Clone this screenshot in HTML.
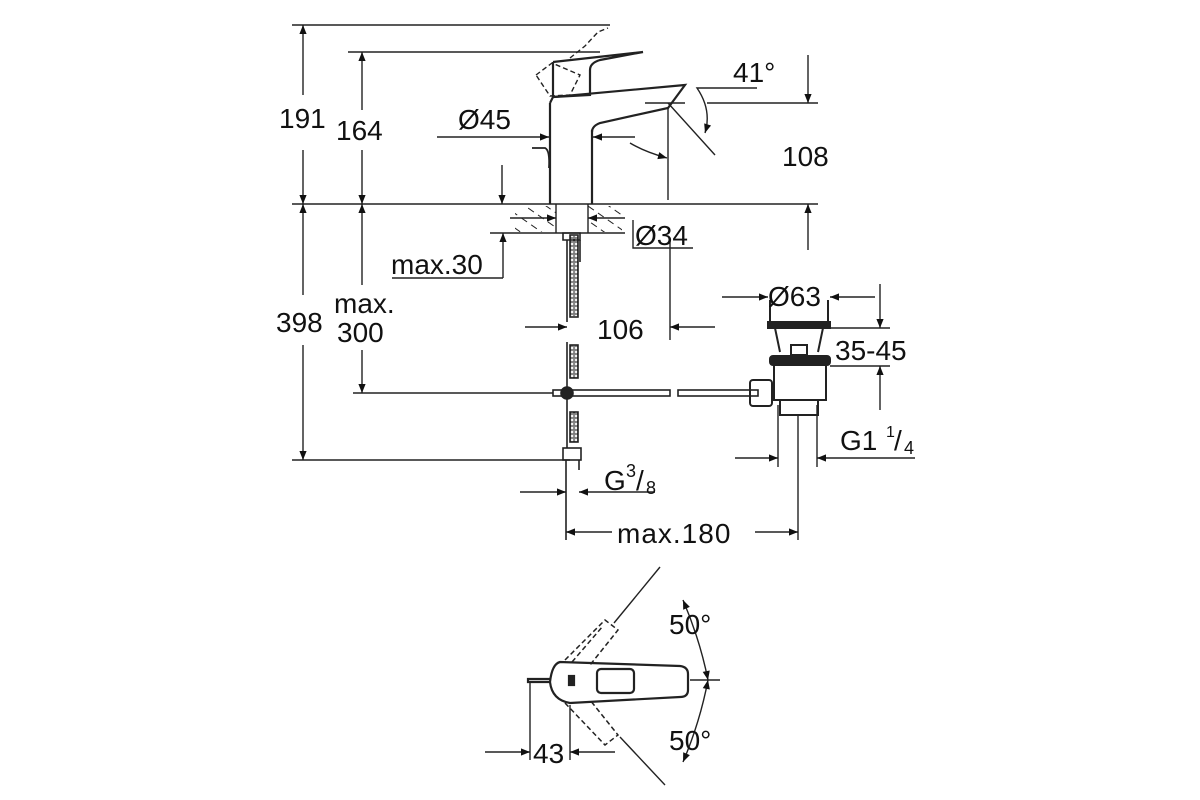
<!DOCTYPE html>
<html><head><meta charset="utf-8"><style>
html,body{margin:0;padding:0;background:#fff;}
svg{display:block;}
text{font-family:"Liberation Sans",sans-serif;fill:#111;}
</style></head><body>
<svg width="1200" height="800" viewBox="0 0 1200 800" xmlns="http://www.w3.org/2000/svg">
<defs>
<marker id="a" viewBox="0 0 10 10" refX="10" refY="5" markerWidth="16" markerHeight="9" markerUnits="userSpaceOnUse" orient="auto-start-reverse"><path d="M0,1 L10,5 L0,9 z" fill="#111"/></marker>
<pattern id="h" width="12" height="12" patternUnits="userSpaceOnUse" patternTransform="rotate(-55)"><line x1="0" y1="0" x2="0" y2="7" stroke="#222" stroke-width="2"/></pattern>
<pattern id="mesh" width="4" height="4" patternUnits="userSpaceOnUse"><circle cx="2" cy="2" r="1.2" fill="none" stroke="#222" stroke-width="0.9"/></pattern>
</defs>
<g stroke="#222" stroke-width="1.4" fill="none">
<line x1="292" y1="25" x2="610" y2="25"/>
<line x1="348" y1="52" x2="600" y2="52"/>
<line x1="292" y1="204" x2="818" y2="204"/>
<line x1="292" y1="460" x2="570" y2="460"/>
<line x1="353" y1="393" x2="553" y2="393"/>
<line x1="303" y1="25" x2="303" y2="95" marker-start="url(#a)"/>
<line x1="303" y1="150" x2="303" y2="204" marker-end="url(#a)"/>
<line x1="303" y1="204" x2="303" y2="295" marker-start="url(#a)"/>
<line x1="303" y1="345" x2="303" y2="460" marker-end="url(#a)"/>
<line x1="362" y1="52" x2="362" y2="110" marker-start="url(#a)"/>
<line x1="362" y1="150" x2="362" y2="204" marker-end="url(#a)"/>
<line x1="362" y1="204" x2="362" y2="285" marker-start="url(#a)"/>
<line x1="362" y1="350" x2="362" y2="393" marker-end="url(#a)"/>
<line x1="502" y1="165" x2="502" y2="204" marker-end="url(#a)"/>
<line x1="503" y1="278" x2="503" y2="233" marker-end="url(#a)"/>
<line x1="392" y1="278" x2="503" y2="278"/>
<line x1="490" y1="233" x2="625" y2="233"/>
<rect x="515" y="206" width="41" height="26" fill="url(#h)" stroke="none"/>
<rect x="588" y="206" width="34" height="26" fill="url(#h)" stroke="none"/>
<line x1="556" y1="204" x2="556" y2="233"/><line x1="588" y1="204" x2="588" y2="233"/>
<line x1="510" y1="218" x2="556" y2="218" marker-end="url(#a)"/>
<line x1="625" y1="218" x2="588" y2="218" marker-end="url(#a)"/>
<polyline points="633,220 633,248 693,248"/>
<g stroke-width="2.2">
<line x1="550" y1="103" x2="550" y2="204"/>
<line x1="592" y1="130" x2="592" y2="204"/>
<path d="M550,103 L553,97 L685,85 L668,108 L600,123 Q592,126 592,132"/>
<path d="M553,62 L643,52 L600,60 Q590,63 590,70 L590,95 L553,97"/>
<path d="M553,62 L553,97"/>
<path d="M532,148 L545,148 Q550,150 549,168" stroke-width="1.8"/>
</g>
<path d="M536,75 L552,63 L580,75 L570,95 L550,96 Z" stroke-dasharray="5,3"/>
<path d="M570,58 L585,46 L598,32 L608,28" stroke-dasharray="5,3"/>
<line x1="437" y1="137" x2="549" y2="137" marker-end="url(#a)"/>
<line x1="635" y1="137" x2="593" y2="137" marker-end="url(#a)"/>
<path d="M630,143 Q645,152 667,158" marker-end="url(#a)"/>
<line x1="668" y1="108" x2="668" y2="200"/>
<line x1="668" y1="103" x2="715" y2="155"/>
<line x1="645" y1="103" x2="685" y2="103"/>
<line x1="707" y1="103" x2="818" y2="103"/>
<path d="M757,88 L697,88 Q712,110 705,133" marker-end="url(#a)"/>
<line x1="808" y1="55" x2="808" y2="103" marker-end="url(#a)"/>
<line x1="808" y1="250" x2="808" y2="204" marker-end="url(#a)"/>
<g stroke-width="1.6">
<path d="M563,233 L580,233 L580,240 L563,240 Z"/>
<line x1="567" y1="240" x2="567" y2="322"/>
<rect x="570" y="235" width="8" height="82" fill="url(#mesh)"/>
<line x1="580" y1="240" x2="580" y2="262"/>
<line x1="567" y1="342" x2="567" y2="393"/>
<rect x="570" y="345" width="8" height="33" fill="url(#mesh)"/>
<rect x="570" y="412" width="8" height="30" fill="url(#mesh)"/>
<line x1="567" y1="393" x2="567" y2="448"/>
<rect x="563" y="448" width="18" height="12"/>
<line x1="566" y1="460" x2="566" y2="540"/><line x1="579" y1="460" x2="579" y2="470"/>
<rect x="553" y="390" width="117" height="6"/>
<circle cx="567" cy="393" r="6" fill="#222"/>
<rect x="678" y="390" width="80" height="6"/>
</g>
<g stroke-width="2">
<path d="M770,300 L770,322 L828,322 L828,300"/>
<rect x="768" y="322" width="62" height="6" fill="#222"/>
<path d="M775,328 L780,352 M823,328 L818,352"/>
<rect x="791" y="345" width="16" height="10"/>
<rect x="770" y="356" width="60" height="9" rx="3" fill="#222"/>
<rect x="774" y="365" width="52" height="35"/>
<rect x="780" y="400" width="38" height="15"/>
<rect x="750" y="380" width="22" height="26" rx="3"/>
</g>
<line x1="798" y1="415" x2="798" y2="540"/>
<line x1="778" y1="405" x2="778" y2="467"/><line x1="817" y1="405" x2="817" y2="467"/>
<line x1="722" y1="297" x2="768" y2="297" marker-end="url(#a)"/>
<line x1="875" y1="297" x2="830" y2="297" marker-end="url(#a)"/>
<line x1="830" y1="328" x2="890" y2="328"/><line x1="830" y1="366" x2="890" y2="366"/>
<line x1="880" y1="284" x2="880" y2="328" marker-end="url(#a)"/>
<line x1="880" y1="410" x2="880" y2="366" marker-end="url(#a)"/>
<line x1="735" y1="458" x2="778" y2="458" marker-end="url(#a)"/>
<line x1="915" y1="458" x2="817" y2="458" marker-end="url(#a)"/>
<line x1="670" y1="240" x2="670" y2="340"/>
<line x1="525" y1="327" x2="567" y2="327" marker-end="url(#a)"/>
<line x1="715" y1="327" x2="670" y2="327" marker-end="url(#a)"/>
<line x1="520" y1="492" x2="566" y2="492" marker-end="url(#a)"/>
<line x1="655" y1="492" x2="579" y2="492" marker-end="url(#a)"/>
<line x1="612" y1="532" x2="566" y2="532" marker-end="url(#a)"/>
<line x1="755" y1="532" x2="798" y2="532" marker-end="url(#a)"/>
<g stroke-width="2.2">
<path d="M560,662 L680,666 Q688,667 688,674 L688,690 Q688,697 680,697 L570,703 Q552,700 550,682 Q552,664 560,662 Z"/>
<rect x="597" y="669" width="37" height="24" rx="4"/>
<rect x="569" y="676" width="5" height="9" fill="#222"/>
<path d="M550,682 L528,682 L528,679 L550,679"/>
</g>
<g stroke-dasharray="5,3" stroke-width="1.5">
<path d="M565,660 L605,620 L618,630 L590,665"/>
<path d="M572,662 L603,626"/>
<path d="M565,703 L605,745 L618,735 L590,700"/>
</g>
<line x1="660" y1="567" x2="614" y2="623"/>
<line x1="620" y1="737" x2="665" y2="785"/>
<line x1="690" y1="680" x2="720" y2="680"/>
<path d="M683,600 Q700,640 708,680" marker-start="url(#a)" marker-end="url(#a)"/>
<path d="M708,680 Q700,722 683,762" marker-start="url(#a)" marker-end="url(#a)"/>
<line x1="530" y1="682" x2="530" y2="760"/><line x1="570" y1="705" x2="570" y2="760"/>
<line x1="485" y1="752" x2="530" y2="752" marker-end="url(#a)"/>
<line x1="615" y1="752" x2="570" y2="752" marker-end="url(#a)"/>
</g>
<g font-size="28">
<text x="279" y="128">191</text>
<text x="336" y="140">164</text>
<text x="276" y="332">398</text>
<text x="334" y="313">max.</text>
<text x="337" y="342">300</text>
<text x="458" y="129">Ø45</text>
<text x="733" y="82">41°</text>
<text x="782" y="166">108</text>
<text x="635" y="245">Ø34</text>
<text x="391" y="274">max.30</text>
<text x="597" y="339">106</text>
<text x="768" y="306">Ø63</text>
<text x="835" y="360">35-45</text>
<text x="840" y="450">G1</text><text x="886" y="437" font-size="16">1</text><text x="894" y="450">/</text><text x="904" y="454" font-size="18">4</text>
<text x="604" y="490">G</text><text x="626" y="477" font-size="18">3</text><text x="636" y="490">/</text><text x="646" y="494" font-size="18">8</text>
<text x="617" y="543" letter-spacing="1">max.180</text>
<text x="669" y="634">50°</text>
<text x="669" y="750">50°</text>
<text x="533" y="763">43</text>
</g>
</svg>
</body></html>
